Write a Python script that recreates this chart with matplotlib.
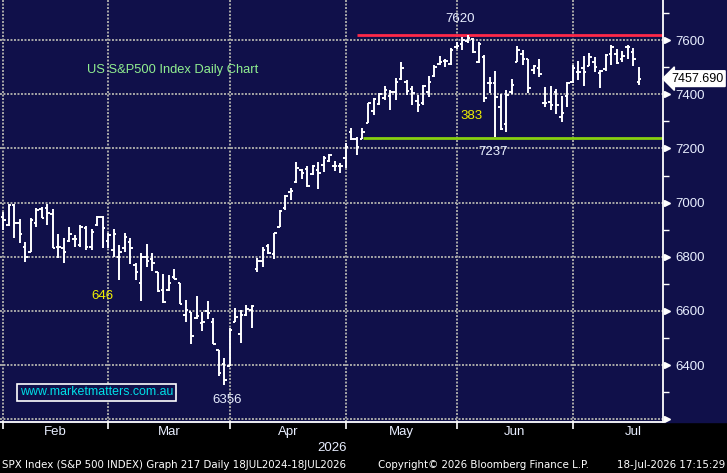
import numpy as np
import matplotlib
matplotlib.use('Agg')
import matplotlib.pyplot as plt
from matplotlib.patches import Rectangle
from matplotlib.transforms import blended_transform_factory

# daily OHLC, one entry per trading day from 2 Feb 2026
opens = [6948, 6918, 6991, 6924, 6837, 6817, 6924, 6976, 6979, 6957,
         6837, 6831, 6858, 6866, 6844, 6905, 6837, 6918, 6948,
         6858, 6825, 6800, 6831, 6854, 6770, 6702, 6798, 6792, 6743,
         6677, 6677, 6724, 6702, 6585, 6595, 6575, 6555, 6600, 6559,
         6456, 6403,
         6395, 6559, 6514, 6585, 6604, 6754, 6785, 6841, 6810, 6911,
         6979, 7040, 7077, 7120, 7123, 7106, 7120, 7139, 7153, 7136, 7136,
         7164, 7260, 7236, 7235, 7295, 7338, 7363, 7385, 7395, 7410,
         7456, 7444, 7420, 7375, 7366, 7410, 7468, 7510, 7522, 7510,
         7575, 7584, 7598, 7604, 7518, 7539, 7440, 7440, 7354, 7289,
         7410, 7518, 7547, 7530, 7489, 7498, 7366, 7370, 7410, 7317, 7395,
         7444, 7481, 7496, 7505, 7518, 7477, 7493, 7547, 7547, 7532,
         7575, 7557, 7446]
highs = [6966, 6994, 6994, 6939, 6856, 6944, 6981, 6985, 6994, 6976,
         6883, 6868, 6909, 6880, 6917, 6915, 6901, 6952, 6952,
         6887, 6901, 6844, 6887, 6871, 6776, 6813, 6847, 6813, 6743,
         6735, 6733, 6755, 6705, 6641, 6595, 6655, 6595, 6637, 6573,
         6456, 6428,
         6538, 6610, 6604, 6622, 6622, 6795, 6837, 6847, 6887, 6973,
         7028, 7053, 7151, 7124, 7136, 7139, 7149, 7172, 7179, 7153, 7147,
         7221, 7274, 7243, 7274, 7369, 7385, 7403, 7430, 7415, 7459,
         7520, 7452, 7430, 7397, 7434, 7467, 7508, 7541, 7532, 7569,
         7594, 7612, 7620, 7606, 7594, 7545, 7465, 7486, 7400, 7415,
         7455, 7578, 7563, 7532, 7508, 7529, 7425, 7430, 7418, 7393, 7446,
         7508, 7522, 7542, 7551, 7536, 7489, 7547, 7582, 7567, 7559,
         7582, 7572, 7502]
lows = [6899, 6915, 6868, 6850, 6782, 6817, 6909, 6942, 6917, 6831,
        6797, 6778, 6856, 6837, 6837, 6825, 6825, 6915, 6831,
        6831, 6800, 6714, 6817, 6774, 6714, 6637, 6764, 6748, 6671,
        6628, 6675, 6717, 6625, 6561, 6477, 6569, 6526, 6571, 6477,
        6361, 6325,
        6395, 6559, 6481, 6583, 6538, 6745, 6764, 6810, 6792, 6909,
        6973, 7010, 7073, 7087, 7056, 7102, 7051, 7114, 7151, 7118, 7110,
        7127, 7231, 7176, 7233, 7293, 7323, 7360, 7379, 7342, 7379,
        7452, 7397, 7360, 7336, 7360, 7391, 7465, 7508, 7502, 7508,
        7566, 7565, 7588, 7551, 7516, 7372, 7403, 7243, 7268, 7262,
        7401, 7518, 7508, 7403, 7475, 7462, 7354, 7342, 7327, 7299, 7352,
        7440, 7452, 7431, 7505, 7481, 7424, 7486, 7508, 7510, 7518,
        7530, 7505, 7434]
closes = [6936, 6990, 6924, 6883, 6800, 6936, 6973, 6942, 6961, 6834,
          6837, 6819, 6883, 6866, 6911, 6837, 6893, 6948, 6907,
          6880, 6883, 6817, 6874, 6831, 6743, 6798, 6785, 6776, 6674,
          6632, 6702, 6718, 6625, 6604, 6508, 6583, 6559, 6592, 6477,
          6370, 6345,
          6528, 6579, 6585, 6607, 6620, 6785, 6825, 6815, 6887, 6969,
          7024, 7043, 7127, 7108, 7061, 7136, 7108, 7166, 7176, 7136, 7136,
          7206, 7236, 7206, 7260, 7369, 7382, 7400, 7415, 7410, 7444,
          7498, 7412, 7405, 7360, 7432, 7446, 7500, 7520, 7522, 7563,
          7580, 7600, 7606, 7555, 7584, 7385, 7440, 7391, 7270, 7397,
          7434, 7563, 7532, 7422, 7505, 7473, 7366, 7360, 7360, 7330, 7440,
          7498, 7483, 7483, 7539, 7502, 7486, 7545, 7575, 7514, 7542,
          7575, 7532, 7457.69]

month_names = ['Feb', 'Mar', 'Apr', 'May', 'Jun', 'Jul']
month_starts = [0, 19, 41, 62, 82, 103, 125]   # index of first trading day
price_levels = [6200, 6400, 6600, 6800, 7000, 7200, 7400, 7600]

resistance = 7620
support = 7237
last_price = 7457.69

plt.rcParams['font.family'] = ['Liberation Sans', 'DejaVu Sans']

W, H = 727, 473
navy = '#10104a'
txt = '#e8eeff'

fig = plt.figure(figsize=(W / 100, H / 100), dpi=100, facecolor='black')
fig.patches.append(Rectangle((0, 51 / H), 1, 1, transform=fig.transFigure,
                             color=navy, zorder=-10))
ax = fig.add_axes([0, 51 / H, 663 / W, 422 / H])
ax.set_facecolor(navy)

px = 5.53  # pixels per trading day
x0 = -0.55
x1 = x0 + 663 / px
ax.set_xlim(x0, x1)
ax.set_ylim(6190, 7748)

grid_kw = dict(color='#a8a8a8', lw=1.4, ls=(0, (1, 0.8)), zorder=1)
for lv in price_levels:
    ax.axhline(lv, **grid_kw)
for ms in month_starts[:-1]:
    ax.axvline(ms, **grid_kw)

idx = np.arange(len(closes))
ax.vlines(idx, lows, highs, color='white', lw=1.4, zorder=3)
ax.hlines(opens, idx - 0.45, idx, color='white', lw=1.4, zorder=3)
ax.hlines(closes, idx, idx + 0.45, color='white', lw=1.4, zorder=3)

ax.hlines(resistance, 64.0, x1, color='#ff2848', lw=2, zorder=2)
ax.hlines(support, 65.1, x1, color='#88d010', lw=2, zorder=2)

# annotations
ax.text(82.6, 7677, '7620', color=txt, fontsize=9.5, ha='center', va='center')
ax.text(88.6, 7187, '7237', color=txt, fontsize=9.5, ha='center', va='center')
ax.text(84.8, 7320, '383', color='#f0f000', fontsize=9.5, ha='center', va='center')
ax.text(17.9, 6655, '646', color='#f0f000', fontsize=9.5, ha='center', va='center')
ax.text(40.5, 6272, '6356', color=txt, fontsize=9.5, ha='center', va='center')
ax.text(30.6, 7489, 'US S&P500 Index Daily Chart', color='#90ee90',
        fontsize=9.3, ha='center', va='center')
ax.text(16.9, 6300, 'www.marketmatters.com.au', color='#00e0e8', fontsize=8.9,
        ha='center', va='center',
        bbox=dict(boxstyle='square,pad=0.2', fc=navy, ec='white', lw=1.2))

# axes / ticks
for s in ['top', 'left']:
    ax.spines[s].set_visible(False)
for s in ['right', 'bottom']:
    ax.spines[s].set_color('white')
    ax.spines[s].set_linewidth(1.3)

ax.yaxis.tick_right()
ax.set_yticks(price_levels)
ax.set_yticklabels([''] + [str(v) for v in price_levels[1:]])
ax.set_yticks(np.arange(6300, 7701, 200), minor=True)
ax.tick_params(axis='y', which='major', length=0, pad=9, labelcolor=txt,
               labelsize=9.5)
ax.tick_params(axis='y', which='minor', length=4, width=1, color='white')
tr = blended_transform_factory(ax.transAxes, ax.transData)
ax.plot([1 + 4 / 663] * len(price_levels), price_levels, transform=tr,
        ls='none', marker='>', ms=5, color='white', clip_on=False, zorder=5)

ax.set_xticks(month_starts[:-1])
ax.set_xticklabels([])
ax.tick_params(axis='x', length=5, width=1.2, color='white', direction='out')
trx = blended_transform_factory(ax.transData, ax.transAxes)
for i, name in enumerate(month_names):
    mid = (month_starts[i] + month_starts[i + 1]) / 2
    ax.text(mid, -10 / 422, name, transform=trx, color=txt, fontsize=9.5,
            ha='center', va='center', clip_on=False)
ax.text(59.5, -26 / 422, '2026', transform=trx, color=txt, fontsize=9.5,
        ha='center', va='center', clip_on=False)

ax.text(1 + 8 / 663, last_price, '7457.690', transform=tr, color='black',
        fontsize=9, ha='left', va='center', clip_on=False, zorder=6,
        bbox=dict(boxstyle='larrow,pad=0.15', fc='white', ec='white'))

fy = 1 - 465 / H
foot = dict(color='white', fontsize=7.4, va='center', family='DejaVu Sans')
fig.text(2 / W, fy, 'SPX Index (S&P 500 INDEX) Graph 217 Daily 18JUL2024-18JUL2026',
         ha='left', **foot)
fig.text(378 / W, fy, 'Copyright\u00a9 2026 Bloomberg Finance L.P.',
         ha='left', **foot)
fig.text(725 / W, fy, '18-Jul-2026 17:15:29', ha='right', **foot)

fig.savefig('out.png', dpi=100, facecolor='black')
